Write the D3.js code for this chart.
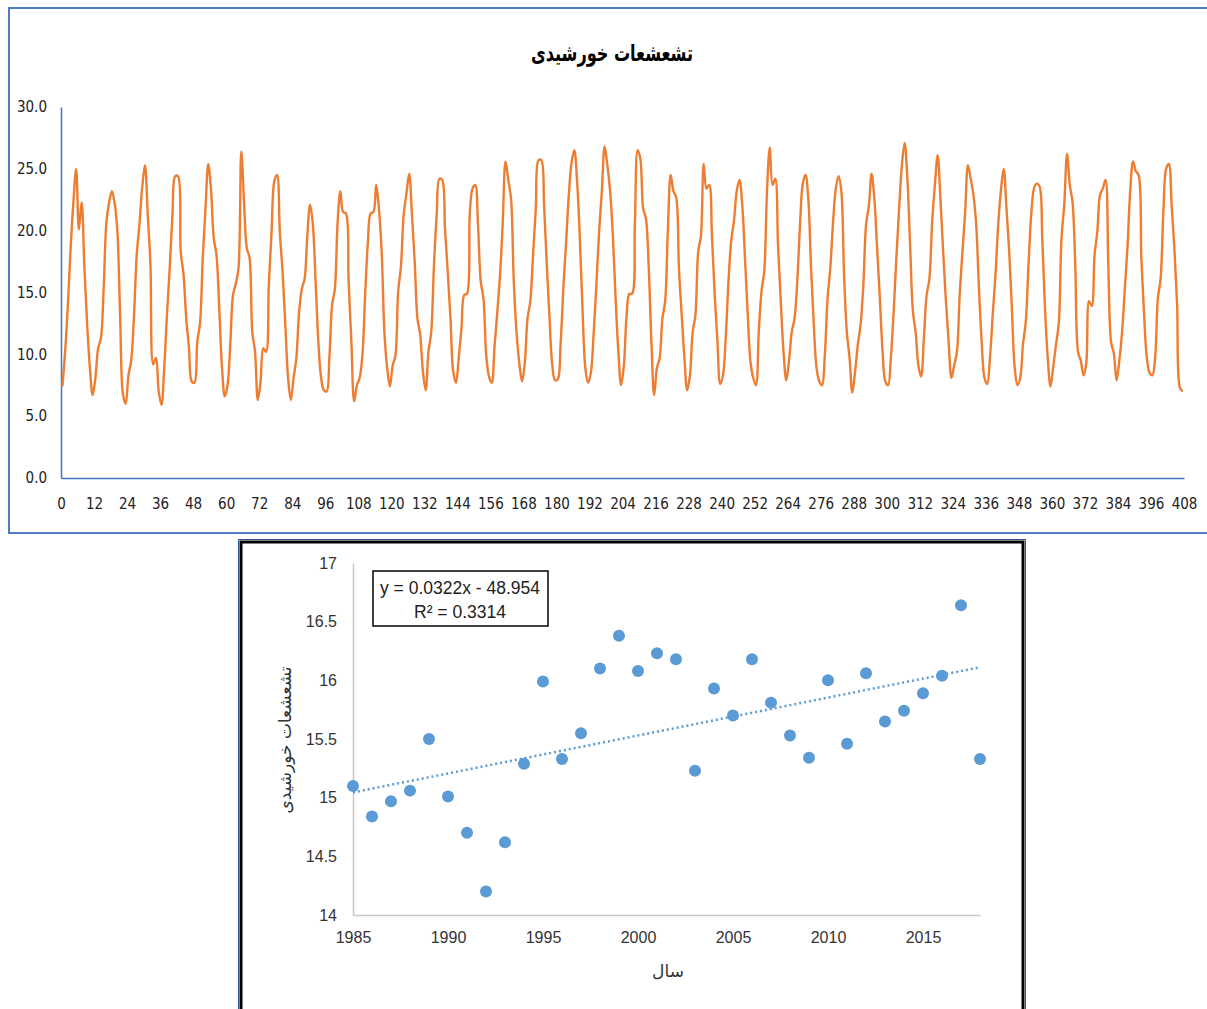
<!DOCTYPE html>
<html>
<head>
<meta charset="utf-8">
<script src="https://cdn.jsdelivr.net/npm/d3@7/dist/d3.min.js"></script>
<style>
body { margin: 0; background: #fff; }
svg { display: block; }
</style>
</head>
<body>
<svg id="chart" width="1207" height="1009"></svg>
<script>
// monthly solar radiation, one row per year (1985 .. 2018), 408 months
var monthly = [
    [7.4, 10.2, 14.0, 18.6, 22.3, 25.0, 20.1, 22.3, 17.0, 12.4, 8.9, 6.7],
    [8.1, 10.5, 11.3, 15.3, 20.7, 22.3, 23.2, 22.2, 19.9, 12.9, 6.8, 6.0],
    [8.3, 9.5, 13.0, 18.0, 20.5, 23.5, 25.3, 21.4, 17.2, 9.2, 9.7, 7.0],
    [5.9, 8.9, 13.2, 17.0, 21.3, 24.4, 24.4, 18.3, 16.5, 12.9, 10.5, 7.8],
    [7.7, 11.0, 12.5, 17.8, 21.8, 25.4, 23.3, 19.4, 18.0, 13.7, 8.9, 6.6],
    [7.5, 10.8, 14.8, 15.7, 17.0, 26.4, 22.3, 18.6, 17.8, 11.8, 10.2, 6.3],
    [7.8, 10.5, 10.2, 15.6, 19.9, 24.0, 24.5, 19.9, 16.7, 12.4, 8.1, 6.3],
    [8.1, 9.7, 13.4, 15.3, 16.1, 19.6, 22.1, 20.5, 15.9, 11.0, 8.1, 7.1],
    [7.0, 9.7, 14.0, 15.3, 20.7, 23.2, 21.5, 21.4, 15.9, 11.0, 6.2, 7.5],
    [8.1, 9.9, 14.8, 19.1, 21.4, 21.5, 23.7, 21.8, 18.3, 11.8, 8.9, 7.4],
    [9.1, 9.9, 15.1, 17.1, 21.3, 23.0, 24.6, 21.3, 17.5, 12.9, 11.6, 8.6],
    [7.1, 10.2, 11.8, 17.2, 21.3, 24.2, 24.1, 20.2, 16.7, 12.9, 8.6, 7.7],
    [9.7, 12.1, 14.8, 14.9, 21.3, 23.4, 23.7, 20.5, 15.9, 14.5, 9.9, 8.2],
    [7.7, 10.6, 13.4, 16.4, 20.7, 25.6, 24.1, 22.6, 15.9, 11.8, 9.3, 7.8],
    [9.3, 12.9, 14.3, 18.0, 21.8, 25.7, 25.7, 22.1, 17.2, 12.9, 9.1, 7.9],
    [8.0, 10.8, 15.3, 19.0, 22.9, 25.5, 26.5, 24.0, 19.4, 13.5, 8.9, 7.7],
    [8.5, 11.6, 15.6, 19.9, 23.2, 26.8, 25.3, 23.2, 19.6, 14.5, 10.2, 7.5],
    [9.1, 13.2, 14.9, 14.9, 20.5, 26.5, 25.8, 21.8, 21.0, 17.2, 11.0, 6.7],
    [8.9, 9.7, 12.9, 14.3, 20.2, 24.5, 23.2, 22.7, 17.0, 13.2, 9.7, 7.1],
    [8.3, 11.8, 13.2, 18.3, 19.6, 25.4, 23.4, 23.7, 19.6, 14.8, 11.0, 7.6],
    [8.3, 11.3, 15.9, 19.2, 20.8, 23.2, 24.1, 22.1, 17.8, 13.2, 9.4, 8.1],
    [7.5, 11.8, 15.1, 16.7, 23.2, 26.7, 23.7, 24.2, 18.8, 14.3, 10.2, 7.9],
    [9.5, 11.8, 12.9, 15.9, 20.5, 23.8, 24.5, 22.6, 17.0, 12.4, 8.9, 7.8],
    [7.5, 9.9, 14.5, 17.0, 20.7, 23.4, 24.4, 23.2, 16.4, 11.8, 9.7, 6.9],
    [8.6, 10.8, 12.4, 15.6, 20.5, 22.0, 24.6, 22.6, 18.6, 14.5, 10.2, 7.8],
    [7.5, 9.7, 13.4, 17.8, 21.8, 25.3, 27.1, 24.2, 18.8, 13.5, 11.8, 9.1],
    [8.2, 11.3, 14.8, 16.1, 20.7, 23.7, 26.1, 22.6, 18.3, 14.3, 11.0, 8.1],
    [9.1, 10.2, 14.8, 18.3, 21.5, 25.3, 24.2, 22.9, 20.5, 15.3, 11.0, 8.1],
    [7.6, 9.7, 13.2, 16.4, 20.5, 23.3, 25.0, 21.8, 18.3, 13.5, 8.9, 7.5],
    [8.1, 10.8, 12.6, 17.2, 21.3, 23.4, 23.8, 23.6, 19.4, 13.7, 9.7, 7.4],
    [9.0, 10.8, 12.5, 19.4, 22.1, 26.2, 23.7, 22.3, 17.2, 10.2, 9.5, 8.3],
    [9.3, 14.3, 13.9, 18.0, 19.9, 22.9, 23.4, 24.1, 17.2, 11.0, 10.1, 7.9],
    [9.5, 11.8, 15.3, 18.8, 23.4, 25.6, 24.8, 24.5, 17.8, 13.2, 9.7, 8.5],
    [8.3, 9.7, 14.5, 16.1, 21.5, 25.0, 25.4, 22.1, 18.6, 14.0, 7.3, 7.0]
];

var topXTicks = [0, 12, 24, 36, 48, 60, 72, 84, 96, 108, 120, 132, 144, 156, 168, 180, 192, 204,
    216, 228, 240, 252, 264, 276, 288, 300, 312, 324, 336, 348, 360, 372, 384, 396, 408];
var topYTicks = [0, 5, 10, 15, 20, 25, 30];

// annual means for the scatter
var years = [1985, 1986, 1987, 1988, 1989, 1990, 1991, 1992, 1993, 1994, 1995, 1996,
    1997, 1998, 1999, 2000, 2001, 2002, 2003, 2004, 2005, 2006, 2007, 2008,
    2009, 2010, 2011, 2012, 2013, 2014, 2015, 2016, 2017, 2018];
var annual = [15.10, 14.84, 14.97, 15.06, 15.50, 15.01, 14.70, 14.20, 14.62, 15.29, 15.99, 15.33,
    15.55, 16.10, 16.38, 16.08, 16.23, 16.18, 15.23, 15.93, 15.70, 16.18, 15.81, 15.53,
    15.34, 16.00, 15.46, 16.06, 15.65, 15.74, 15.89, 16.04, 16.64, 15.33];
var botXTicks = [1985, 1990, 1995, 2000, 2005, 2010, 2015];
var botYTicks = [14, 14.5, 15, 15.5, 16, 16.5, 17];

var titleText = "تشعشعات خورشیدی";
var xTitle = "سال";
var eqText = "y = 0.0322x - 48.954";
var r2Text = "R² = 0.3314";

var svg = d3.select("#chart");
var persian = "'DejaVu Sans', sans-serif";
var narrow = "'Liberation Sans Narrow', 'DejaVu Sans Condensed', sans-serif";
var latin = "'Liberation Sans', Arial, sans-serif";

//---------------------------------------------------------------- top chart
svg.append("rect")
    .attr("x", 9).attr("y", 8).attr("width", 1200).attr("height", 525)
    .attr("fill", "#fff").attr("stroke", "#4f7cc6").attr("stroke-width", 2);

svg.append("text")
    .attr("x", 612).attr("y", 61)
    .attr("text-anchor", "middle")
    .attr("font-family", "'DejaVu Sans Condensed', 'DejaVu Sans', sans-serif")
    .attr("font-weight", "bold").attr("font-size", "23px")
    .attr("textLength", 162).attr("lengthAdjust", "spacingAndGlyphs")
    .attr("fill", "#000")
    .text(titleText);

var series = [].concat.apply([], monthly);

var x = d3.scaleLinear().domain([0, 408]).range([61, 1184]);
var y = d3.scaleLinear().domain([0, 30]).range([478, 107]);

var xAxis = svg.append("g")
    .attr("transform", "translate(0,478)")
    .call(d3.axisBottom(x).tickValues(topXTicks).tickSize(0).tickPadding(20));
var yAxis = svg.append("g")
    .attr("transform", "translate(61,0)")
    .call(d3.axisLeft(y).tickValues(topYTicks).tickSize(0).tickPadding(14).tickFormat(d3.format(".1f")));

[xAxis, yAxis].forEach(function(g) {
    g.select(".domain").attr("stroke", "#4472c4").attr("stroke-width", 1.5);
    g.selectAll("text").attr("font-family", narrow).attr("font-size", "15px").attr("fill", "#222");
});

svg.append("path")
    .datum(series)
    .attr("fill", "none")
    .attr("stroke", "#ed7d31")
    .attr("stroke-width", 2.4)
    .attr("stroke-linejoin", "round")
    .attr("d", d3.line()
        .x(function(d, i) { return x(i + 0.5); })
        .y(function(d) { return y(d); })
        .curve(d3.curveCatmullRom.alpha(0.5)));

//---------------------------------------------------------------- scatter
svg.append("rect")
    .attr("x", 238.5).attr("y", 539.5).attr("width", 787).attr("height", 480)
    .attr("fill", "#fff").attr("stroke", "#2e5597").attr("stroke-width", 1);
svg.append("rect")
    .attr("x", 241).attr("y", 542).attr("width", 782).attr("height", 480)
    .attr("fill", "none").attr("stroke", "#000").attr("stroke-width", 3);

var sx = d3.scaleLinear().domain([1985, 2018]).range([353, 980]);
var sy = d3.scaleLinear().domain([14, 17]).range([915, 563]);

var sxAxis = svg.append("g")
    .attr("transform", "translate(0,915)")
    .call(d3.axisBottom(sx).tickValues(botXTicks).tickSize(0).tickPadding(17).tickFormat(d3.format("d")));
var syAxis = svg.append("g")
    .attr("transform", "translate(353,0)")
    .call(d3.axisLeft(sy).tickValues(botYTicks).tickSize(0).tickPadding(16).tickFormat(function(d) { return String(d); }));

[sxAxis, syAxis].forEach(function(g) {
    g.select(".domain").attr("stroke", "#c8c8c8").attr("stroke-width", 1.5);
    g.selectAll("text").attr("font-family", latin).attr("font-size", "16px").attr("fill", "#333");
});

// least squares trend from the points
var pts = years.map(function(yr, i) { return [yr, annual[i]]; });
var mx = d3.mean(pts, d => d[0]), my = d3.mean(pts, d => d[1]);
var slope = d3.sum(pts, d => (d[0] - mx) * (d[1] - my)) / d3.sum(pts, d => (d[0] - mx) * (d[0] - mx));
var icpt = my - slope * mx;

svg.append("line")
    .attr("x1", sx(1985)).attr("y1", sy(slope * 1985 + icpt))
    .attr("x2", sx(2018)).attr("y2", sy(slope * 2018 + icpt))
    .attr("stroke", "#5b9bd5").attr("stroke-width", 2.5)
    .attr("stroke-dasharray", "2,3");

svg.append("g").selectAll("circle")
    .data(pts)
    .enter().append("circle")
    .attr("cx", d => sx(d[0]))
    .attr("cy", d => sy(d[1]))
    .attr("r", 6)
    .attr("fill", "#5b9bd5");

// equation box
svg.append("rect")
    .attr("x", 373).attr("y", 571).attr("width", 175).attr("height", 55)
    .attr("fill", "#fff").attr("stroke", "#000").attr("stroke-width", 1.5);
svg.append("text")
    .attr("x", 460).attr("y", 594).attr("text-anchor", "middle")
    .attr("font-family", latin).attr("font-size", "17.5px").attr("fill", "#222")
    .text(eqText);
svg.append("text")
    .attr("x", 460).attr("y", 618).attr("text-anchor", "middle")
    .attr("font-family", latin).attr("font-size", "17.5px").attr("fill", "#222")
    .text(r2Text);

// axis titles
svg.append("text")
    .attr("x", 668).attr("y", 977).attr("text-anchor", "middle")
    .attr("font-family", persian).attr("font-size", "17px").attr("fill", "#333")
    .text(xTitle);
svg.append("text")
    .attr("transform", "translate(291,740) rotate(-90)")
    .attr("text-anchor", "middle")
    .attr("font-family", persian).attr("font-size", "17px").attr("fill", "#333")
    .text(titleText);
</script>
</body>
</html>
